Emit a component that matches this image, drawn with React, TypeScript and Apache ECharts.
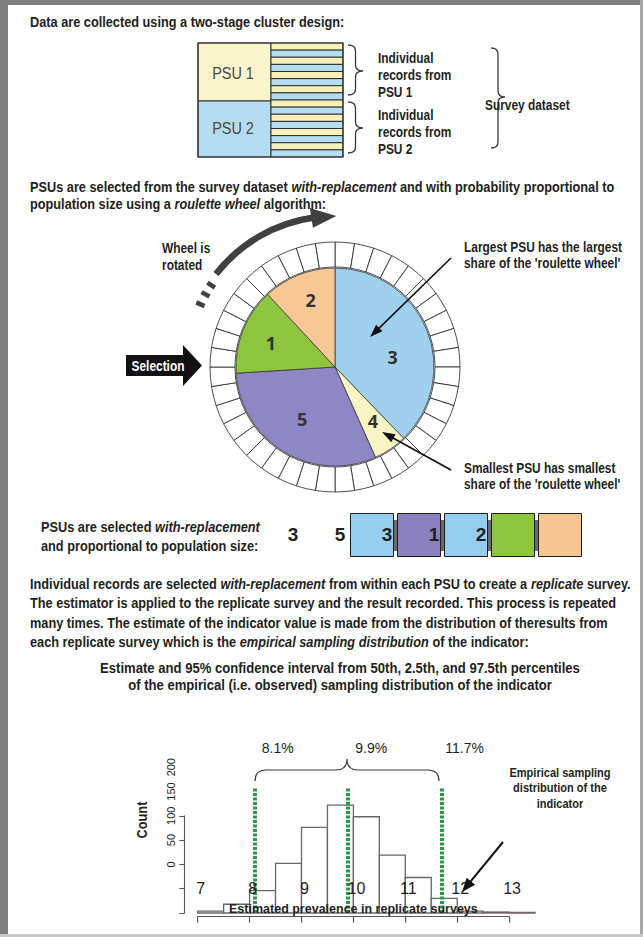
import React, { useEffect, useRef } from 'react';
import * as echarts from 'echarts';

// ---------------- data ----------------
const wheelPSUs = ['3', '4', '5', '1', '2'];
const wheelShares = [37.8, 5.5, 30.7, 14.1, 11.9];
const wheelCellCount = 40;
const selectedPSUs = ['3', '5', '3', '1', '2'];
const binStarts = [7, 7.5, 8, 8.5, 9, 9.5, 10, 10.5, 11, 11.5, 12, 12.5, 13];
const binCounts = [4, 18, 46, 102, 176, 222, 198, 119, 73, 30, 4, 2, 1];
const binWidth = 0.5;
const percentileValues = [8.1, 9.9, 11.7];
const percentileLabels = ['8.1%', '9.9%', '11.7%'];
const countTickLabels = [0, 50, 100, 150, 200];
const prevalenceTicks = [7, 8, 9, 10, 11, 12, 13];

// ---------------- style ----------------
const INK = '#231f20';
const SANS = "'Liberation Sans', Arial, sans-serif";
const SX = 0.85; // horizontal compression to mimic a condensed face
const psuColor: Record<string, string> = { '1': '#8dc53e', '2': '#f9c795', '3': '#9fd1ef', '4': '#f8f4c4', '5': '#8e86c5' };
const boxColor: Record<string, string> = { '1': '#8ec640', '2': '#f8c692', '3': '#94cdef', '5': '#8b81c1' };
// label nudges inside the wheel: [dx, dy]
const pieLabelShift: Record<string, number[]> = {
  '3': [9, 9.3],
  '4': [8.6, 10.5],
  '5': [-5.8, 7.1],
  '1': [-15.3, -4.8],
  '2': [-5.1, -18.1],
};
const WC = [335, 367];

function vBrace(x: number, y0: number, y1: number, w: number, ym: number) {
  const xm = x + w / 2;
  const r = Math.min(w / 2, 6);
  return `M${x},${y0} Q${xm},${y0} ${xm},${y0 + r} L${xm},${ym - r} Q${xm},${ym} ${x + w},${ym} Q${xm},${ym} ${xm},${ym + r} L${xm},${y1 - r} Q${xm},${y1} ${x},${y1}`;
}
function hBrace(x0: number, x1: number, yb: number, yt: number, xm: number) {
  const ym = (yb + yt) / 2;
  const r = (yb - yt) / 2;
  return `M${x0},${yb} Q${x0},${ym} ${x0 + r},${ym} L${xm - r},${ym} Q${xm},${ym} ${xm},${yt} Q${xm},${ym} ${xm + r},${ym} L${x1 - r},${ym} Q${x1},${ym} ${x1},${yb}`;
}
const SHAPES: Record<string, string> = {
  brace1: vBrace(348, 45, 95, 15, 71),
  brace2: vBrace(348, 102, 153, 15, 128),
  brace3: vBrace(491, 48, 148, 14, 97),
  brace4: hBrace(255, 439, 781, 759, 347),
};
function registerShapes() {
  Object.keys(SHAPES).forEach((k) => {
    echarts.graphic.registerShape(k, echarts.graphic.extendPath(SHAPES[k], {}) as any);
  });
}

function txt(x: number, y: number, text: string, o: any = {}) {
  const size = o.size ?? 15;
  const weight = o.weight ?? 'bold';
  const lh = o.lh ?? Math.round(size * 1.2);
  const color = o.color ?? INK;
  return {
    type: 'text', x, y, z: 100, silent: true, rotation: o.rotation ?? 0, scaleX: o.sx ?? SX,
    style: {
      text, fill: color, fontFamily: SANS, fontSize: size, fontWeight: weight,
      align: o.align ?? 'left', verticalAlign: 'middle', lineHeight: lh,
      rich: { i: { fontStyle: 'italic', fontWeight: weight, fontSize: size, fontFamily: SANS, fill: color, lineHeight: lh } },
    },
  };
}

function arrow(x1: number, y1: number, x2: number, y2: number, lw = 1.6, hl = 12, hw = 9, color = '#111') {
  const dx = x2 - x1, dy = y2 - y1, L = Math.hypot(dx, dy), ux = dx / L, uy = dy / L;
  const bx = x2 - ux * hl, by = y2 - uy * hl, px = -uy, py = ux;
  return [
    { type: 'line', z: 100, silent: true, shape: { x1, y1, x2: bx + ux, y2: by + uy }, style: { stroke: color, lineWidth: lw } },
    { type: 'polygon', z: 100, silent: true, shape: { points: [[x2, y2], [bx + px * hw / 2, by + py * hw / 2], [bx - px * hw / 2, by - py * hw / 2]] }, style: { fill: color } },
  ];
}

function polar(r: number, deg: number) {
  const a = (deg * Math.PI) / 180;
  return [WC[0] + r * Math.sin(a), WC[1] - r * Math.cos(a)];
}

function buildGraphic() {
  const els: any[] = [];
  // frame
  els.push({ type: 'rect', z: 1, silent: true, shape: { x: 0, y: 0, width: 643, height: 5 }, style: { fill: '#7f7f7f' } });
  els.push({ type: 'rect', z: 1, silent: true, shape: { x: 0, y: 0, width: 8, height: 937 }, style: { fill: '#7f7f7f' } });
  els.push({ type: 'rect', z: 1, silent: true, shape: { x: 640, y: 0, width: 3, height: 937 }, style: { fill: '#a9a9a9' } });
  els.push({ type: 'rect', z: 1, silent: true, shape: { x: 0, y: 934, width: 643, height: 3 }, style: { fill: '#c9c9c9' } });

  // section 1
  els.push(txt(30, 22, 'Data are collected using a two-stage cluster design:'));
  els.push({ type: 'rect', z: 50, silent: true, shape: { x: 198, y: 43, width: 73, height: 58 }, style: { fill: '#f9f4cb', stroke: '#333', lineWidth: 1 } });
  els.push({ type: 'rect', z: 50, silent: true, shape: { x: 198, y: 101, width: 73, height: 56 }, style: { fill: '#b5dbef', stroke: '#333', lineWidth: 1 } });
  const rowH = 114 / 16;
  for (let i = 0; i < 16; i++) {
    els.push({ type: 'rect', z: 50, silent: true, shape: { x: 271, y: 43 + i * rowH, width: 72, height: rowH }, style: { fill: i % 2 === 0 ? '#f7f1b9' : '#b6dcef', stroke: '#222', lineWidth: 0.9 } });
  }
  els.push({ type: 'rect', z: 51, silent: true, shape: { x: 198, y: 43, width: 145, height: 114 }, style: { fill: 'none', stroke: '#333', lineWidth: 1.2 } });
  els.push(txt(233, 73, 'PSU 1', { size: 17, weight: 'normal', color: '#4a4a4a', align: 'center' }));
  els.push(txt(233, 128, 'PSU 2', { size: 17, weight: 'normal', color: '#4a4a4a', align: 'center' }));
  ['brace1', 'brace2', 'brace3'].forEach((b) => els.push({ type: b, z: 100, silent: true, style: { fill: 'none', stroke: '#3a3a3a', lineWidth: 1.3 } }));
  els.push(txt(378, 75.5, 'Individual\nrecords from\nPSU 1', { size: 14, lh: 17 }));
  els.push(txt(378, 132.3, 'Individual\nrecords from\nPSU 2', { size: 14, lh: 17 }));
  els.push(txt(485, 105, 'Survey dataset', { size: 14 }));

  // section 2
  els.push(txt(30, 195, 'PSUs are selected from the survey dataset {i|with-replacement} and with probability proportional to\npopulation size using a {i|roulette wheel} algorithm:', { lh: 17 }));
  els.push(txt(162, 256.7, 'Wheel is\nrotated', { size: 14, lh: 16.7 }));
  // rotation arrow
  els.push({ type: 'arc', z: 100, silent: true, shape: { cx: WC[0], cy: WC[1], r: 151, startAngle: ((-52 - 90) * Math.PI) / 180, endAngle: ((-8 - 90) * Math.PI) / 180, clockwise: true }, style: { stroke: '#404040', lineWidth: 6.5, fill: 'none' } });
  els.push({ type: 'polygon', z: 100, silent: true, shape: { points: [polar(151, 0.5), polar(161, -9), polar(141, -9)] }, style: { fill: '#404040' } });
  [-56.5, -60.7, -65].forEach((d) => {
    const a = polar(144, d), b = polar(153, d);
    els.push({ type: 'line', z: 100, silent: true, shape: { x1: a[0], y1: a[1], x2: b[0], y2: b[1] }, style: { stroke: '#404040', lineWidth: 4.5 } });
  });
  // selection arrow
  els.push({ type: 'polygon', z: 100, silent: true, shape: { points: [[126, 355], [183, 355], [183, 345], [202, 365.5], [183, 386], [183, 376], [126, 376]] }, style: { fill: '#111' } });
  els.push(txt(158, 366, 'Selection', { size: 14, color: '#fff', align: 'center' }));
  els.push(txt(464, 254.7, "Largest PSU has the largest\nshare of the 'roulette wheel'", { size: 14, lh: 16 }));
  els.push(...arrow(451, 258, 370, 337, 1.6, 13, 9));
  els.push(txt(464, 476.3, "Smallest PSU has smallest\nshare of the 'roulette wheel'", { size: 14, lh: 16 }));
  els.push(...arrow(451, 470, 382, 432, 1.6, 13, 9));

  // section 3
  els.push(txt(41, 536, 'PSUs are selected {i|with-replacement}\nand proportional to population size:', { lh: 18.3 }));
  els.push({ type: 'rect', z: 0, silent: true, shape: { x: 352, y: 520, width: 228, height: 31 }, style: { fill: '#6a6a6a' } });

  // section 4
  els.push(txt(30, 612.6, 'Individual records are selected {i|with-replacement} from within each PSU to create a {i|replicate} survey.\nThe estimator is applied to the replicate survey and the result recorded. This process is repeated\nmany times. The estimate of the indicator value is made from the distribution of theresults from\neach replicate survey which is the {i|empirical sampling distribution} of the indicator:', { lh: 19.5 }));
  els.push(txt(340, 676, 'Estimate and 95% confidence interval from 50th, 2.5th, and 97.5th percentiles\nof the empirical (i.e. observed) sampling distribution of the indicator', { size: 15.4, lh: 17.5, align: 'center' }));

  // histogram annotations
  els.push({ type: 'brace4', z: 100, silent: true, style: { fill: 'none', stroke: '#3a3a3a', lineWidth: 1.2 } });
  els.push(txt(141.7, 820, 'Count', { size: 15, align: 'center', rotation: Math.PI / 2 }));
  els.push(txt(560, 788, 'Empirical sampling\ndistribution of the\nindicator', { size: 13, lh: 15.3, align: 'center' }));
  els.push(...arrow(503, 842, 462, 892, 2, 14, 11));
  return els;
}

function pieLabel(n: string) {
  const [dx, dy] = pieLabelShift[n];
  const steps = Math.max(1, Math.round((2 * Math.abs(dy)) / 3));
  const lh = Math.max((2 * Math.abs(dy)) / steps, 0.5);
  const pad = '\n'.repeat(steps);
  return {
    formatter: dy >= 0 ? pad + '{b}' : '{b}' + pad,
    lineHeight: lh,
    padding: [0, dx < 0 ? -2 * dx : 0, 0, dx > 0 ? 2 * dx : 0],
  };
}

function buildOption(): any {
  const unit = 51.9; // px per prevalence unit
  const cnt = 0.486; // px per count
  const base = 913;
  const labelShift = 100;
  const maxBar = countTickLabels[countTickLabels.length - 1] + labelShift;
  return {
    animation: false,
    backgroundColor: '#ffffff',
    textStyle: { fontFamily: SANS },
    grid: [
      { left: 197.7, top: base - maxBar * cnt, width: 6.5 * unit, height: maxBar * cnt, outerBoundsMode: 'none' },
      { left: 184.3, top: base - 200 * cnt, width: 10, height: 200 * cnt, outerBoundsMode: 'none' },
      { left: 197.7, top: 906.7, width: 6 * unit, height: 10, outerBoundsMode: 'none' },
      { left: 348.5, top: 513, width: 235, height: 44, outerBoundsMode: 'none' },
    ],
    xAxis: [
      { gridIndex: 0, type: 'value', min: prevalenceTicks[0], max: prevalenceTicks[prevalenceTicks.length - 1] + binWidth, show: false },
      { gridIndex: 1, type: 'value', min: 0, max: 1, show: false },
      {
        gridIndex: 2, type: 'value', z: 10, min: prevalenceTicks[0], max: prevalenceTicks[prevalenceTicks.length - 1], interval: 1,
        axisLine: { show: true, lineStyle: { color: '#5a5a5a', width: 1.2 } },
        axisTick: { show: true, length: 6, lineStyle: { color: '#5a5a5a', width: 1.2 } },
        splitLine: { show: false },
        axisLabel: { show: true, margin: -36, fontSize: 16, color: INK, fontFamily: SANS, padding: [0, 0, 0, 6] },
        name: 'Estimated prevalence in replicate surveys', nameLocation: 'middle', nameGap: -14.5, nameMoveOverlap: false,
        nameTextStyle: { fontSize: 12.5, fontWeight: 'bold', color: INK, fontFamily: SANS },
      },
      { gridIndex: 3, type: 'category', data: selectedPSUs.map((_, i) => `draw ${i + 1}`), show: false },
    ],
    yAxis: [
      { gridIndex: 0, type: 'value', position: 'right', min: 0, max: maxBar, show: false },
      {
        gridIndex: 0, type: 'value', position: 'left', offset: 13.4, min: -labelShift, max: countTickLabels[countTickLabels.length - 1], interval: 50,
        axisLine: { show: false }, axisTick: { show: false }, splitLine: { show: false },
        axisLabel: { show: true, rotate: 90, margin: 8, fontSize: 11, color: INK, fontFamily: SANS, formatter: (v: number) => (countTickLabels.includes(v) ? String(v) : '') },
      },
      {
        gridIndex: 1, type: 'value', position: 'left', min: 0, max: 200, interval: 50,
        axisLine: { show: true, lineStyle: { color: '#5a5a5a', width: 1.1 } },
        axisTick: { show: true, length: 5, lineStyle: { color: '#5a5a5a', width: 1.1 } },
        axisLabel: { show: false }, splitLine: { show: false },
      },
      { gridIndex: 2, type: 'value', min: 0, max: 1, show: false },
      { gridIndex: 3, type: 'value', min: 0, max: 1, show: false },
    ],
    series: [
      {
        type: 'pie', center: WC, radius: [0, 99], startAngle: 90, clockwise: true, silent: true, avoidLabelOverlap: false, z: 3,
        labelLayout: { hideOverlap: false },
        itemStyle: { borderColor: '#3a3a3a', borderWidth: 0.8 },
        label: { show: true, position: 'inside', fontSize: 18, fontWeight: 'bold', color: '#333', fontFamily: "'Open Sans', sans-serif" },
        labelLine: { show: false },
        emphasis: { disabled: true },
        data: wheelPSUs.map((n, i) => ({ name: n, value: wheelShares[i], itemStyle: { color: psuColor[n] }, label: pieLabel(n) })),
      },
      {
        type: 'pie', center: WC, radius: [100, 125], startAngle: 90, clockwise: true, silent: true, z: 3,
        itemStyle: { color: '#ffffff', borderColor: '#222', borderWidth: 0.8 },
        label: { show: false }, labelLine: { show: false }, emphasis: { disabled: true },
        data: Array.from({ length: wheelCellCount }, (_, i) => ({ name: `cell ${i + 1}`, value: 1 })),
      },
      {
        type: 'bar', xAxisIndex: 3, yAxisIndex: 4, barWidth: 44, silent: true, z: 3,
        itemStyle: { borderColor: '#1e1e1e', borderWidth: 1 },
        label: { show: true, position: 'inside', offset: [-79, -1], formatter: (p: any) => selectedPSUs[p.dataIndex], fontSize: 19, fontWeight: 'bold', color: INK, fontFamily: SANS },
        data: selectedPSUs.map((p) => ({ value: 1, itemStyle: { color: boxColor[p] } })),
      },
      {
        type: 'custom', xAxisIndex: 0, yAxisIndex: 0, silent: true, z: 3,
        encode: { x: [0, 1], y: 2 },
        data: binStarts.map((s, i) => [s, s + binWidth, binCounts[i]]),
        renderItem: (params: any, api: any) => {
          const a = api.coord([api.value(0), 0]);
          const b = api.coord([api.value(1), api.value(2)]);
          return { type: 'rect', shape: { x: a[0], y: b[1], width: b[0] - a[0], height: a[1] - b[1] }, style: { fill: '#ffffff', stroke: '#6e6464', lineWidth: 1.3 } };
        },
      },
      {
        type: 'line', xAxisIndex: 0, yAxisIndex: 0, data: [], silent: true, z: 5, symbol: 'none',
        markLine: {
          silent: true, symbol: ['none', 'none'], animation: false,
          lineStyle: { color: '#2b9a48', width: 4, type: [3, 1.5] },
          label: { show: true, position: 'end', distance: 33, padding: [0, 0, 0, 46], formatter: '{b}', fontSize: 14, color: INK, fontFamily: SANS },
          data: percentileValues.map((v, i) => [{ name: percentileLabels[i], coord: [v, 0] }, { coord: [v, 257] }]),
        },
      },
    ],
    graphic: { elements: buildGraphic() },
  };
}

export default function App() {
  const ref = useRef<HTMLDivElement>(null);
  useEffect(() => {
    registerShapes();
    const chart = echarts.init(ref.current as HTMLDivElement, null, { renderer: 'svg', width: 643, height: 937 });
    chart.setOption(buildOption());
    return () => chart.dispose();
  }, []);
  return <div ref={ref} style={{ position: 'absolute', left: 0, top: 0, width: 643, height: 937, background: '#fff' }} />;
}
